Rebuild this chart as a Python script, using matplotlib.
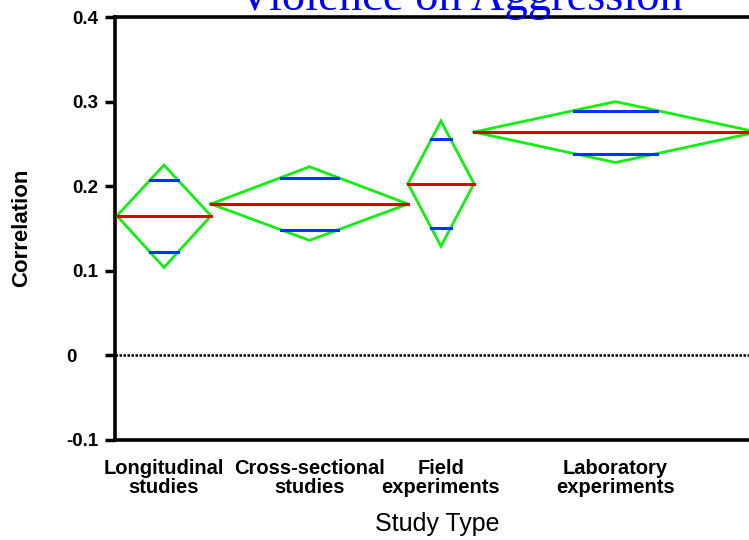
import numpy as np
import matplotlib.pyplot as plt

# study types and their mean correlations with 95% CI (means diamonds)
categories = ['Longitudinal\nstudies', 'Cross-sectional\nstudies',
              'Field\nexperiments', 'Laboratory\nexperiments']
means = [0.165, 0.179, 0.203, 0.264]
ci_low = [0.104, 0.136, 0.129, 0.228]
ci_high = [0.225, 0.223, 0.277, 0.300]
weights = [94, 197, 66, 283]  # relative sample sizes -> diamond widths
yticks = [-0.1, 0, 0.1, 0.2, 0.3, 0.4]
ytick_labels = ['-0.1', '0    ', '0.1', '0.2', '0.3', '0.4']

fig = plt.figure(figsize=(7.49, 5.40), dpi=100)
ax = fig.add_axes([115 / 749, 100 / 540, 647 / 749, 423 / 540])

left = 0
centers = []
for m, lo, hi, w in zip(means, ci_low, ci_high, weights):
    c = left + w / 2
    centers.append(c)
    ax.plot([left, c, left + w, c, left], [m, hi, m, lo, m],
            color='#11ee11', lw=2.0, solid_joinstyle='miter', zorder=2)
    ax.plot([left, left + w], [m, m], color='#dd0000', lw=2.2, zorder=3)
    # overlap marks at mean +/- half CI / sqrt(2)
    h = (hi - m) / np.sqrt(2)
    hw = w / 2 * (1 - 1 / np.sqrt(2))
    for yy in (m + h, m - h):
        ax.plot([c - hw, c + hw], [yy, yy], color='#0033ff', lw=2.2, zorder=3)
    left += w

ax.axhline(0, color='black', lw=1.8, ls=(0, (1.0, 0.6)), zorder=1)

ax.set_xlim(-2, 645)
ax.set_ylim(-0.1, 0.4)
ax.set_yticks(yticks)
ax.set_yticklabels(ytick_labels, fontweight='bold', fontsize=13.5,
                   family='Liberation Sans')
ax.set_xticks(centers)
ax.set_xticklabels(categories, fontweight='bold', fontsize=14.5,
                   family='Liberation Sans', linespacing=1.0)
ax.tick_params(axis='y', length=7, width=2.5, pad=5)
ax.tick_params(axis='x', length=0, pad=14)
for s in ax.spines.values():
    s.set_linewidth(2.6)

fig.text(22 / 749, 1 - 228 / 540, 'Correlation', rotation=90, ha='center',
         va='center', fontsize=16, fontweight='bold', family='Liberation Sans')
fig.text(437 / 749, 1 - 524 / 540, 'Study Type', ha='center', va='center',
         fontsize=18, family='Liberation Sans')
fig.text(460 / 749, 1 - 10 / 540, 'Violence on Aggression', ha='center',
         va='baseline', fontsize=33.6, color='#0000ff', family='Liberation Serif')

fig.savefig('out.png', dpi=100)
